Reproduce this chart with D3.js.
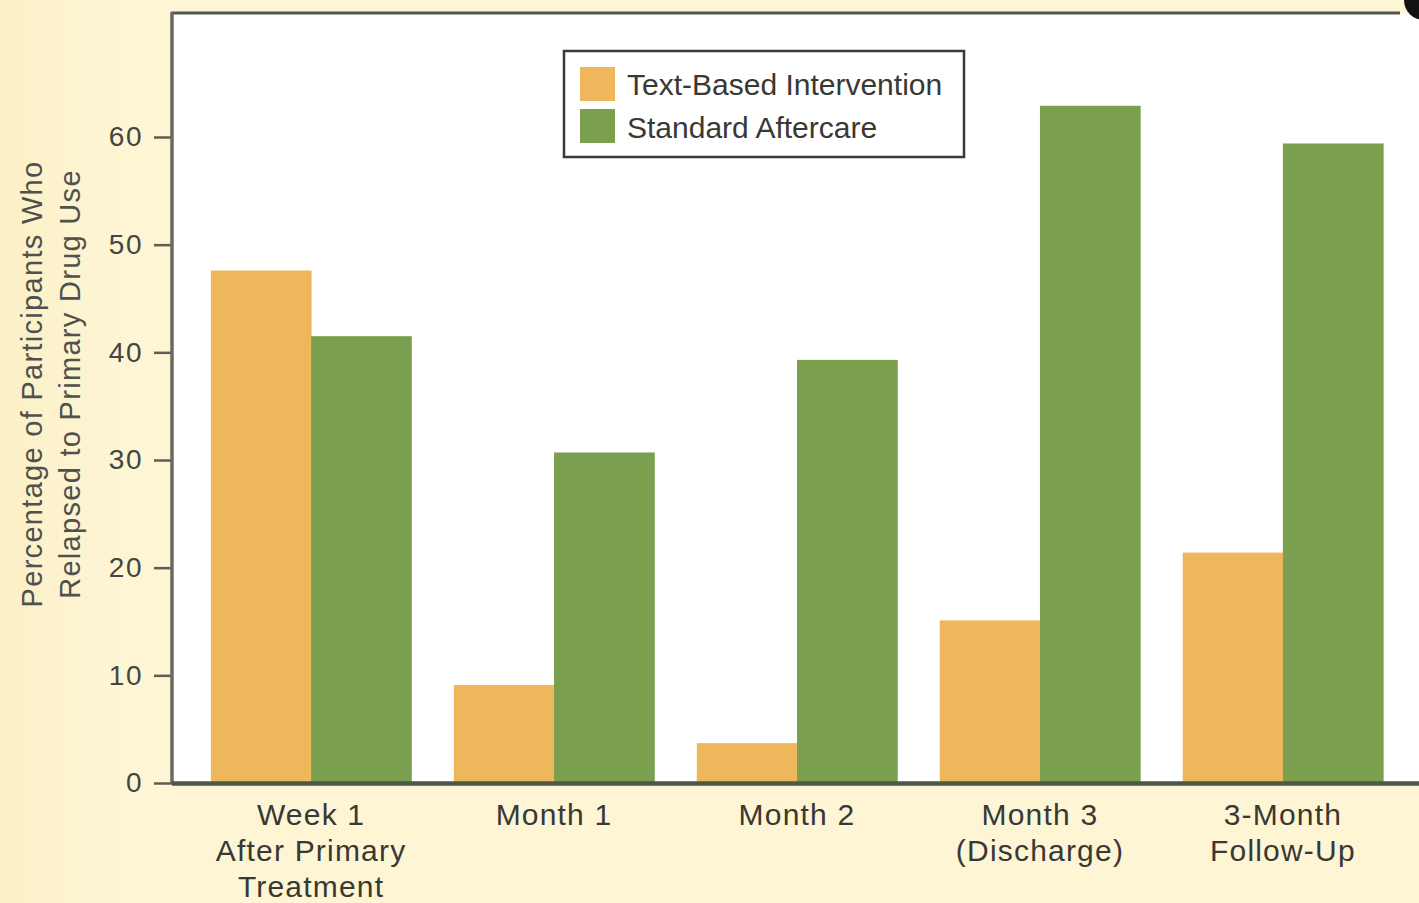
<!DOCTYPE html>
<html>
<head>
<meta charset="utf-8">
<script src="https://cdn.jsdelivr.net/npm/d3@7"></script>
<style>
  html, body { margin: 0; padding: 0; background: #fdf5d4; }
  svg { display: block; }
  text { font-family: "Liberation Sans", Arial, Helvetica, sans-serif; }
</style>
</head>
<body>
<svg id="chart" width="1419" height="903"></svg>
<script>
// Relapse rates by time point for the two aftercare conditions
const categories = [
  ["Week 1", "After Primary", "Treatment"],
  ["Month 1"],
  ["Month 2"],
  ["Month 3", "(Discharge)"],
  ["3-Month", "Follow-Up"]
];
const seriesNames = ["Text-Based Intervention", "Standard Aftercare"];
const textBased = [47.6, 9.1, 3.7, 15.1, 21.4];
const standardCare = [41.5, 30.7, 39.3, 62.9, 59.4];
const yTicks = [0, 10, 20, 30, 40, 50, 60];
const yTitle = ["Percentage of Participants Who", "Relapsed to Primary Drug Use"];

const colors = ["#efb75b", "#7a9f4e"];
const W = 1419, H = 903;
const plot = { left: 172, top: 13, right: 1419, bottom: 783 };

const svg = d3.select("#chart");

// page background
svg.append("rect").attr("width", W).attr("height", H).attr("fill", "#fdf5d4");
const bgGrad = svg.append("defs").append("linearGradient")
  .attr("id", "bgfade").attr("x1", 0).attr("x2", 1);
bgGrad.append("stop").attr("offset", 0).attr("stop-color", "#fbefc4");
bgGrad.append("stop").attr("offset", 1).attr("stop-color", "#fdf6d6").attr("stop-opacity", 0);
svg.append("rect").attr("width", 160).attr("height", H).attr("fill", "url(#bgfade)");

// white plotting panel
svg.append("rect")
  .attr("x", plot.left).attr("y", plot.top)
  .attr("width", plot.right - plot.left).attr("height", plot.bottom - plot.top)
  .attr("fill", "#ffffff");

const keys = categories.map(c => c.join(" "));
const x0 = d3.scaleBand().domain(keys).range([plot.left, 1422])
  .paddingInner(0.175).paddingOuter(0.16);
const x1 = d3.scaleBand().domain([0, 1]).range([0, x0.bandwidth()]);
const y = d3.scaleLinear().domain([0, 60]).range([plot.bottom, 137]);

const rows = keys.map((k, i) => ({ key: k, values: [textBased[i], standardCare[i]] }));

// bars
const groups = svg.append("g").selectAll("g").data(rows).join("g")
  .attr("transform", d => `translate(${x0(d.key)},0)`);
groups.selectAll("rect").data(d => d.values.map((v, s) => ({ v, s }))).join("rect")
  .attr("x", d => x1(d.s))
  .attr("width", x1.bandwidth() + 0.5)
  .attr("y", d => y(d.v))
  .attr("height", d => y(0) - y(d.v))
  .attr("fill", d => colors[d.s]);

// panel frame: top edge
svg.append("line").attr("x1", plot.left - 1).attr("x2", 1400)
  .attr("y1", plot.top).attr("y2", plot.top)
  .attr("stroke", "#55564c").attr("stroke-width", 3);

// y axis
const yAxis = d3.axisLeft(y).tickValues(yTicks).tickSize(18).tickPadding(11);
const gy = svg.append("g").attr("transform", `translate(${plot.left},0)`).call(yAxis);
gy.select(".domain").remove();
gy.selectAll(".tick line").attr("stroke", "#5d5d55").attr("stroke-width", 2.5);
gy.selectAll(".tick text").attr("fill", "#454543").attr("font-size", 28)
  .attr("letter-spacing", 1.5).attr("font-family", "'Liberation Sans', Arial, sans-serif");
svg.append("line").attr("x1", plot.left).attr("x2", plot.left)
  .attr("y1", plot.top - 1).attr("y2", plot.bottom)
  .attr("stroke", "#6a6a62").attr("stroke-width", 3.5);

// x baseline
svg.append("line").attr("x1", plot.left).attr("x2", W)
  .attr("y1", plot.bottom + 0.5).attr("y2", plot.bottom + 0.5)
  .attr("stroke", "#4e5744").attr("stroke-width", 4.5);

// category labels
const xl = svg.append("g");
rows.forEach((r, i) => {
  const cx = x0(r.key) + x0.bandwidth() / 2;
  const t = xl.append("text").attr("text-anchor", "middle")
    .attr("font-size", 30).attr("letter-spacing", 1.2).attr("fill", "#383835");
  categories[i].forEach((line, j) => {
    t.append("tspan").attr("x", cx).attr("y", 825 + j * 36).text(line);
  });
});

// y axis title
const yt = svg.append("text")
  .attr("transform", "translate(0,384) rotate(-90)")
  .attr("text-anchor", "middle").attr("font-size", 29).attr("letter-spacing", 1.3)
  .attr("fill", "#50504d");
yTitle.forEach((line, j) => {
  yt.append("tspan").attr("x", 0).attr("y", 42 + j * 38).text(line);
});

// legend
const lg = svg.append("g");
lg.append("rect").attr("x", 564).attr("y", 51).attr("width", 400).attr("height", 106)
  .attr("fill", "#ffffff").attr("stroke", "#3a3a3a").attr("stroke-width", 2.5);
seriesNames.forEach((name, i) => {
  lg.append("rect").attr("x", 580).attr("y", 67 + i * 42).attr("width", 35).attr("height", 34)
    .attr("fill", colors[i]);
  lg.append("text").attr("x", 627).attr("y", 95 + i * 43)
    .attr("font-size", 30).attr("fill", "#383835").text(name);
});

// dark corner mark at top right
svg.append("circle").attr("cx", 1424).attr("cy", 0).attr("r", 20).attr("fill", "#111");
</script>
</body>
</html>
